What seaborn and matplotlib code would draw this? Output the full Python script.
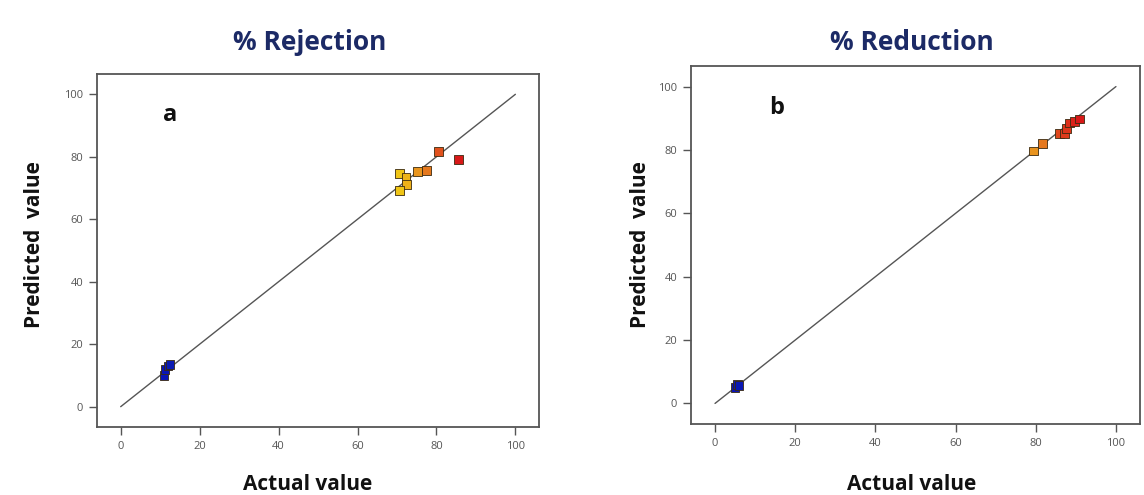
import matplotlib
matplotlib.use("Agg")
import matplotlib.pyplot as plt
from matplotlib.colors import LinearSegmentedColormap
import seaborn as sns
import pandas as pd

# ---- data ----
rej_actual    = [11.0, 11.2, 12.0, 12.5, 70.6, 72.3, 72.5, 70.6, 75.2, 77.4, 80.5, 85.5]
rej_predicted = [10.0, 12.0, 13.0, 13.5, 74.7, 73.3, 71.2, 69.1, 75.3, 75.5, 81.6, 79.2]

red_actual    = [5.0, 5.6, 6.0, 79.4, 81.6, 85.9, 87.1, 87.6, 88.4, 89.6, 90.9]
red_predicted = [5.0, 6.0, 5.6, 79.7, 82.0, 85.3, 85.1, 86.7, 88.5, 89.1, 89.8]

titles = ["% Rejection", "% Reduction"]
letters = ["a", "b"]
ticks = [0, 20, 40, 60, 80, 100]

sns.set_theme(style="white")
plt.rcParams['font.family'] = ['Open Sans', 'DejaVu Sans']

cmap = LinearSegmentedColormap.from_list(
    "de", [(0.0, "#0a14b4"), (0.45, "#20b0a0"), (0.78, "#f2d414"),
           (0.87, "#e8901e"), (0.94, "#e04a1c"), (1.0, "#d81818")])

fig = plt.figure(figsize=(11.44, 4.95), dpi=100)
axes = [fig.add_axes([0.0848, 0.1374, 0.3864, 0.7131]),
        fig.add_axes([0.604, 0.1434, 0.3925, 0.7233])]

datasets = [(rej_actual, rej_predicted), (red_actual, red_predicted)]
letter_pos = [(0.165, 0.884), (0.19, 0.883)]
title_x = [310 / 1144, 912 / 1144]
xlabel_x = [308 / 1144, 912 / 1144]
ylabel_x = [35 / 1144, 640 / 1144]

for i, (ax, (act, pred), title, letter, lp) in enumerate(zip(axes, datasets, titles, letters, letter_pos)):
    df = pd.DataFrame({"actual": act, "predicted": pred})
    ax.plot([0, 100], [0, 100], color="#555555", lw=1.0, zorder=1)
    sns.scatterplot(data=df, x="actual", y="predicted", hue="actual",
                    hue_norm=(min(act), max(act)), palette=cmap, marker="s",
                    s=40, edgecolor="#3a2a10", linewidth=0.6, legend=False,
                    ax=ax, zorder=3)
    ax.set_xlim(-6, 106)
    ax.set_ylim(-6.5, 106.5)
    ax.set_xticks(ticks)
    ax.set_yticks(ticks)
    ax.tick_params(axis="both", which="both", direction="out", length=6,
                   width=1, color="#555555", labelsize=8, labelcolor="#555555",
                   bottom=True, left=True, pad=4)
    for sp in ax.spines.values():
        sp.set_color("#555555")
        sp.set_linewidth(1.3)
    ax.set_xlabel("")
    ax.set_ylabel("")
    fig.text(xlabel_x[i], 1 - 484 / 495, "Actual value", fontsize=15, fontweight="bold",
             color="#111111", ha="center", va="center")
    fig.text(ylabel_x[i], 1 - 245 / 495, "Predicted  value", fontsize=15, fontweight="bold",
             color="#111111", ha="center", va="center", rotation=90)
    fig.text(title_x[i], 1 - 42 / 495, title, fontsize=19, fontweight="bold",
             color="#1c2a66", ha="center", va="center")
    ax.text(lp[0], lp[1], letter, transform=ax.transAxes, fontsize=17,
            fontweight="bold", color="#111111", ha="center", va="center")

fig.savefig("out.png", dpi=100)
